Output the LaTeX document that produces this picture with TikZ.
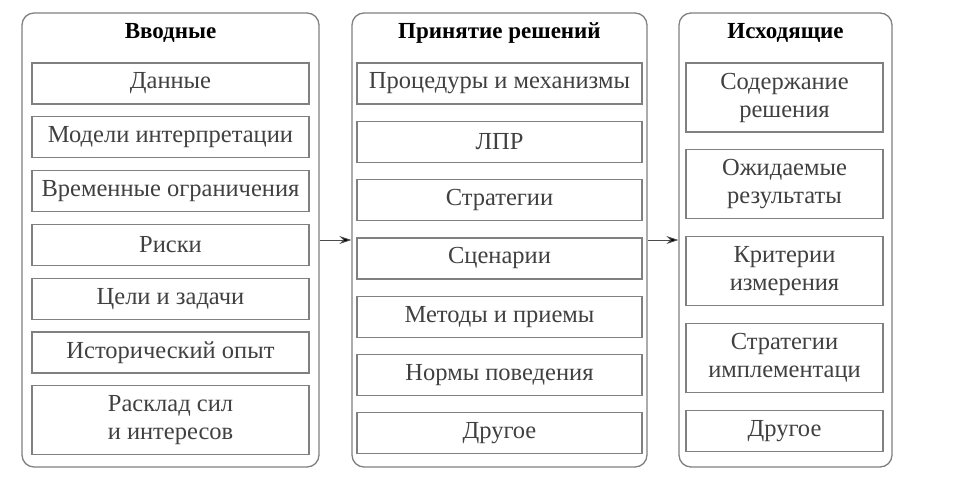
\documentclass[tikz,border=0pt]{standalone}
\usepackage{fontspec}
\setmainfont{Liberation Serif}
\usetikzlibrary{positioning,arrows.meta}
\definecolor{boxline}{gray}{0.5}
\definecolor{boxtext}{gray}{0.25}

\begin{document}
\begin{tikzpicture}[x=1pt,y=-1pt,>={Stealth[length=12pt,width=8pt]},
  panel/.style={draw=boxline,line width=1.3pt,rounded corners=12pt,minimum height=454pt,inner sep=0pt},
  head node/.style={font=\bfseries\fontsize{23}{26}\selectfont,inner sep=0pt},
  item/.style={draw=boxline,line width=1.3pt,text=boxtext,align=center,inner sep=0pt,minimum height=41pt,font=\fontsize{24.5}{28}\selectfont},
  tall/.style={minimum height=69pt}]
  \useasboundingbox (0,0) rectangle (960,488);

  % three columns
  \node[panel,minimum width=297pt] (in) at (170.5,240) {};
  \node[panel,minimum width=295pt] (dec) at (499.5,240) {};
  \node[panel,minimum width=213pt] (out) at (785.5,240) {};

  \node[head node] (inT) at (170.5,33) {Вводные};
  \node[head node] (decT) at (499.5,33) {Принятие решений};
  \node[head node] (outT) at (785.5,33) {Исходящие};

  % inputs
  \begin{scope}[node distance=11.5pt,every node/.append style={minimum width=277pt}]
    \node[item] (in1) at (170.5,83.5) {Данные};
    \node[item] (in2) [below=of in1] {Модели интерпретации};
    \node[item] (in3) [below=of in2] {Временные ограничения};
    \node[item] (in4) [below=of in3] {Риски};
    \node[item] (in5) [below=of in4] {Цели и задачи};
    \node[item] (in6) [below=of in5] {Исторический опыт};
    \node[item,tall] (in7) [below=of in6] {Расклад сил\\и интересов};
  \end{scope}

  % decision making
  \begin{scope}[node distance=16pt,every node/.append style={minimum width=285pt}]
    \node[item] (dec1) at (499.5,83.5) {Процедуры и механизмы};
    \node[item] (dec2) [below=of dec1] {ЛПР};
    \node[item] (dec3) [below=of dec2] {Стратегии};
    \node[item] (dec4) [below=of dec3] {Сценарии};
    \node[item] (dec5) [below=of dec4] {Методы и приемы};
    \node[item] (dec6) [below=of dec5] {Нормы поведения};
    \node[item] (dec7) [below=of dec6] {Другое};
  \end{scope}

  % outputs
  \begin{scope}[node distance=16.5pt,every node/.append style={minimum width=197pt}]
    \node[item,tall] (out1) at (784.5,97.5) {Содержание\\решения};
    \node[item,tall] (out2) [below=of out1] {Ожидаемые\\результаты};
    \node[item,tall] (out3) [below=of out2] {Критерии\\измерения};
    \node[item,tall] (out4) [below=of out3] {Стратегии\\имплементаци};
    \node[item] (out5) [below=of out4] {Другое};
  \end{scope}

  \path[->,draw=black!70,line width=0.9pt]
    (in) edge (dec)
    (dec) edge (out);
\end{tikzpicture}
\end{document}
